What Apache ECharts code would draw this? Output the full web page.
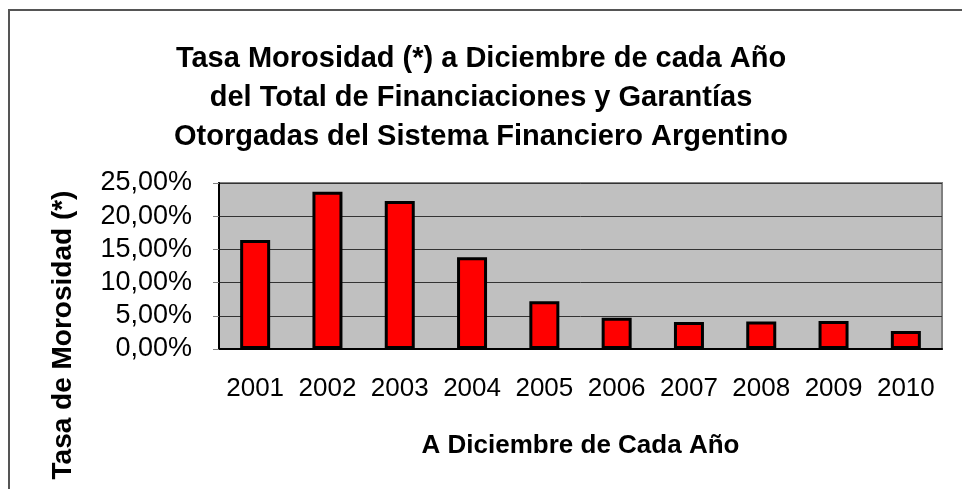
<!DOCTYPE html>
<html>
<head>
<meta charset="utf-8">
<script src="https://cdn.jsdelivr.net/npm/echarts@6/dist/echarts.min.js"></script>
<style>
  html, body { margin: 0; padding: 0; background: #fff; }
  #chart { width: 962px; height: 489px; }
</style>
</head>
<body>
<div id="chart"></div>
<script>
// datos
const years = ['2001', '2002', '2003', '2004', '2005', '2006', '2007', '2008', '2009', '2010'];
const morosidad = [0.164, 0.237, 0.223, 0.138, 0.072, 0.047, 0.0405, 0.0415, 0.042, 0.027];
const yTicks = [0, 0.05, 0.10, 0.15, 0.20, 0.25];

const titleLines = [
  'Tasa Morosidad (*) a Diciembre de cada Año',
  'del Total de Financiaciones y Garantías',
  'Otorgadas del Sistema Financiero Argentino'
];
const xName = 'A Diciembre de Cada Año';
const yName = 'Tasa de Morosidad (*)';

const font = 'Liberation Sans, Arial, sans-serif';

function pct(v) {
  return (v * 100).toFixed(2).replace('.', ',') + '%';
}

const myChart = echarts.init(document.getElementById('chart'));

const option = {
  backgroundColor: '#ffffff',
  animation: false,
  title: {
    text: titleLines.join('\n'),
    left: 'center',
    top: 34,
    textStyle: {
      fontFamily: font,
      fontSize: 29,
      fontWeight: 'bold',
      color: '#000',
      lineHeight: 39
    }
  },
  graphic: [
    {
      // marco exterior
      type: 'rect',
      shape: { x: 9, y: 10, width: 1000, height: 600 },
      style: { fill: 'none', stroke: '#555', lineWidth: 2 },
      silent: true
    },
    {
      type: 'text',
      x: 63,
      y: 335,
      rotation: Math.PI / 2,
      style: {
        text: yName,
        fontFamily: font,
        fontSize: 28,
        fontWeight: 'bold',
        fill: '#000',
        align: 'center',
        verticalAlign: 'middle'
      }
    }
  ],
  grid: {
    left: 219,
    right: 20,
    top: 183,
    bottom: 140,
    show: true,
    backgroundColor: '#C0C0C0',
    borderColor: '#808080',
    borderWidth: 2
  },
  xAxis: {
    type: 'category',
    data: years,
    name: xName,
    nameLocation: 'middle',
    nameGap: 84,
    nameTextStyle: {
      fontFamily: font,
      fontSize: 26,
      fontWeight: 'bold',
      color: '#000'
    },
    axisLine: { lineStyle: { color: '#000', width: 2 } },
    axisTick: { length: 8, lineStyle: { color: '#808080', width: 1 } },
    axisLabel: {
      interval: 0,
      hideOverlap: false,
      margin: 27,
      fontFamily: font,
      fontSize: 26,
      color: '#000'
    }
  },
  yAxis: {
    type: 'value',
    min: yTicks[0],
    max: yTicks[yTicks.length - 1],
    interval: 0.05,
    axisLine: { show: true, lineStyle: { color: '#000', width: 2 } },
    axisTick: { show: true, length: 6, lineStyle: { color: '#808080', width: 1 } },
    splitLine: { lineStyle: { color: '#333', width: 1 } },
    axisLabel: {
      margin: 27,
      fontFamily: font,
      fontSize: 27,
      color: '#000',
      formatter: pct
    }
  },
  series: [{
    type: 'bar',
    data: morosidad,
    barWidth: 30,
    itemStyle: {
      color: '#FF0000',
      borderColor: '#000',
      borderWidth: 3
    }
  }]
};

myChart.setOption(option);
</script>
</body>
</html>
